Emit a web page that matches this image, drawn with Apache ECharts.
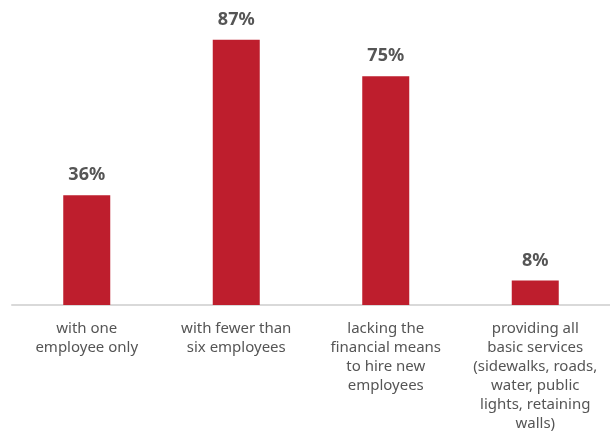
<!DOCTYPE html>
<html><head><meta charset="utf-8">
<script src="https://cdn.jsdelivr.net/npm/echarts@6/dist/echarts.min.js"></script>
<style>html,body{margin:0;padding:0;background:#fff}#c{width:610px;height:435px}</style>
</head><body><div id="c"></div>
<script>
var categories = [
  "with one\nemployee only",
  "with fewer than\nsix employees",
  "lacking the\nfinancial means\nto hire new\nemployees",
  "providing all\nbasic services\n(sidewalks, roads,\nwater, public\nlights, retaining\nwalls)"
];
var values = [36, 87, 75, 8];

var chart = echarts.init(document.getElementById('c'));
chart.setOption({
  animation: false,
  grid: {left: 12, right: 0, top: 0, bottom: 130},
  xAxis: {
    type: 'category',
    data: categories,
    axisLine: {lineStyle: {color: '#d9d9d9', width: 2}},
    axisTick: {show: false},
    axisLabel: {
      interval: 0, color: '#555', fontFamily: 'Noto Sans', fontSize: 15,
      lineHeight: 19, margin: 14
    }
  },
  yAxis: {type: 'value', min: 0, max: 100, show: false, splitLine: {show: false}},
  series: [{
    type: 'bar',
    data: values,
    barWidth: 47,
    itemStyle: {color: '#be1e2d'},
    label: {
      show: true, position: 'top', distance: 11, formatter: '{c}%',
      color: '#555', fontWeight: 'bold', fontFamily: 'Noto Sans', fontSize: 18
    }
  }]
});
</script></body></html>
